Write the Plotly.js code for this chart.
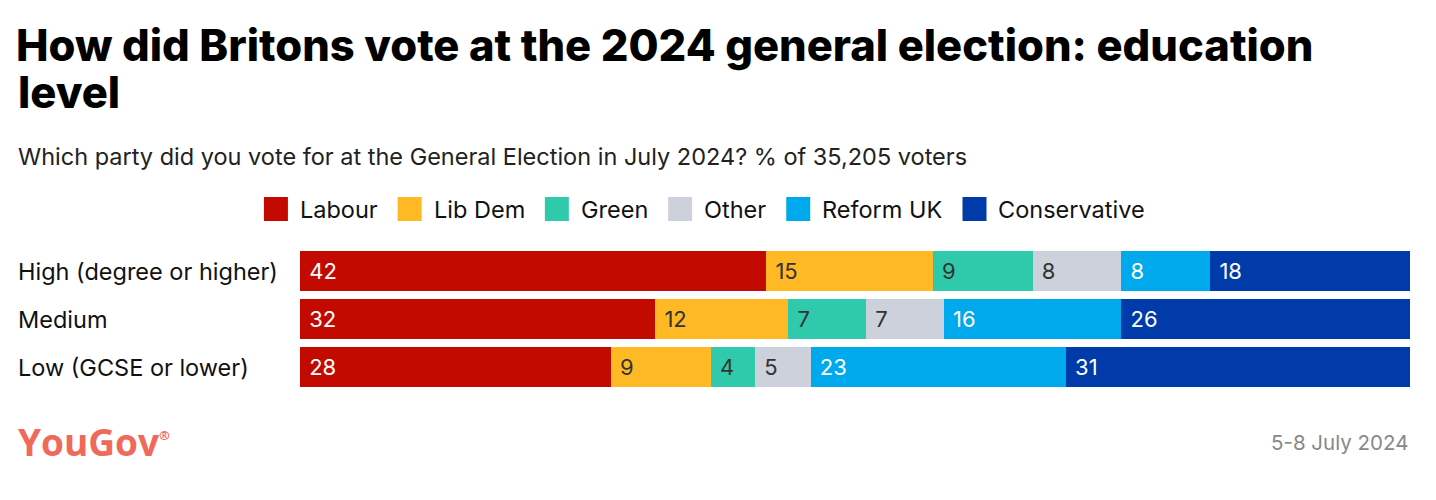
<!DOCTYPE html>
<html>
<head>
<meta charset="utf-8">
<script src="https://cdn.plot.ly/plotly-3.0.1.min.js"></script>
<style>html,body{margin:0;padding:0;background:#fff;}#chart{width:1436px;height:500px;}</style>
</head>
<body>
<div id="chart"></div>
<script>
// ---- data ----
const categories = ["High (degree or higher)", "Medium", "Low (GCSE or lower)"];
const parties = ["Labour", "Lib Dem", "Green", "Other", "Reform UK", "Conservative"];
const labour = [42, 32, 28];
const libDem = [15, 12, 9];
const green = [9, 7, 4];
const other = [8, 7, 5];
const reformUK = [8, 16, 23];
const conservative = [18, 26, 31];
const seriesValues = [labour, libDem, green, other, reformUK, conservative];

// ---- styles ----
const colors = ["#c30a00", "#ffb924", "#2fcaab", "#cdd1dc", "#00a8ec", "#003ca9"];
const textColors = ["#ffffff", "#333333", "#333333", "#333333", "#ffffff", "#ffffff"];
const bodyFamily = "Inter";
const bodyFont = "Inter, Roboto, sans-serif";
const labelSize = 23.5;
const barTextSize = 22;

const W = 1436, H = 500;
const M = {l: 300, r: 26, t: 247, b: 109};
const plotW = W - M.l - M.r, plotH = H - M.t - M.b;
const px2x = p => (p - M.l) / plotW;
const py2y = p => (H - M.b - p) / plotH;

const traces = parties.map((name, i) => ({
  type: "bar",
  orientation: "h",
  name: name,
  y: categories,
  x: seriesValues[i],
  marker: {color: colors[i], line: {width: 0}},
  texttemplate: "\u00a0%{x}",
  textposition: "inside",
  insidetextanchor: "start",
  textangle: 0,
  constraintext: "none",
  insidetextfont: {family: bodyFont, size: barTextSize, color: textColors[i]},
  hoverinfo: "skip",
  showlegend: false
}));

// manual legend with large swatches
function measure(text, size) {
  const c = document.createElement("canvas").getContext("2d");
  c.font = size + "px " + bodyFamily;
  return c.measureText(text).width;
}
const shapes = [];
const annotations = [];
const swatch = 24, textOff = 34, gap = 22, legendCenter = 703.5;
const widths = parties.map(p => measure(p, labelSize));
let total = widths.reduce((a, w) => a + textOff + w, 0) + gap * (parties.length - 1);
let cx = legendCenter - total / 2;
parties.forEach((p, i) => {
  shapes.push({type: "rect", xref: "paper", yref: "paper",
    x0: px2x(cx), x1: px2x(cx + swatch), y0: py2y(221), y1: py2y(197),
    fillcolor: colors[i], line: {width: 0}});
  annotations.push({xref: "paper", yref: "paper", x: px2x(cx + textOff), y: py2y(209),
    xanchor: "left", yanchor: "middle", showarrow: false, text: p,
    font: {family: bodyFont, size: labelSize, color: "#111"}});
  cx += textOff + widths[i] + gap;
});

// category labels (left aligned)
categories.forEach(c => annotations.push({
  xref: "paper", yref: "y", x: px2x(16), y: c, xanchor: "left", yanchor: "middle",
  showarrow: false, text: c, font: {family: bodyFont, size: labelSize, color: "#111"}
}));

// second title line
annotations.push({xref: "paper", yref: "paper", x: px2x(16), y: py2y(92),
  xanchor: "left", yanchor: "middle", showarrow: false, text: "level",
  font: {family: "Inter, Roboto, sans-serif", size: 43.5, color: "#000", weight: 800}});

// subtitle
annotations.push({xref: "paper", yref: "paper", x: px2x(16), y: py2y(156),
  xanchor: "left", yanchor: "middle", showarrow: false,
  text: "Which party did you vote for at the General Election in July 2024? % of 35,205 voters",
  font: {family: bodyFont, size: labelSize, color: "#222"}});

// footer
annotations.push({xref: "paper", yref: "paper", x: px2x(16), y: py2y(441),
  xanchor: "left", yanchor: "middle", showarrow: false,
  text: "YouGov<sup><span style=\"font-size:13px\">®</span></sup>",
  font: {family: "'Open Sans', Roboto, sans-serif", size: 37, color: "#f0695a", weight: 700}});
annotations.push({xref: "paper", yref: "paper", x: 1, y: py2y(442),
  xanchor: "right", yanchor: "middle", showarrow: false,
  text: "5-8 July 2024",
  font: {family: bodyFont, size: 20.5, color: "#888"}});

const layout = {
  width: W, height: H,
  margin: M,
  paper_bgcolor: "#fff", plot_bgcolor: "#fff",
  barmode: "stack",
  bargap: 0.167,
  showlegend: false,
  title: {
    text: "How did Britons vote at the 2024 general election: education",
    font: {family: "Inter, Roboto, sans-serif", size: 43.5, color: "#000", weight: 800},
    xref: "container", yref: "container", x: 16 / W, xanchor: "left",
    y: 1 - 46 / H, yanchor: "middle"
  },
  xaxis: {range: [0, 100], visible: false, fixedrange: true},
  yaxis: {type: "category", categoryarray: categories, categoryorder: "array",
    autorange: "reversed", showticklabels: false, showgrid: false, zeroline: false,
    fixedrange: true},
  shapes: shapes,
  annotations: annotations
};

Plotly.newPlot("chart", traces, layout, {displayModeBar: false, staticPlot: true});
</script>
</body>
</html>
